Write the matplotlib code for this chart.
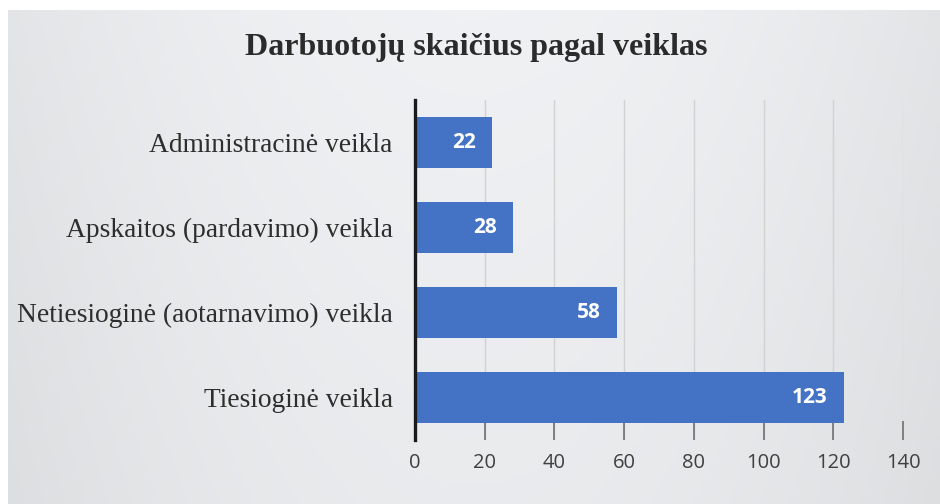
import numpy as np
import matplotlib.pyplot as plt

# data
categories = [
    "Administracinė veikla",
    "Apskaitos (pardavimo) veikla",
    "Netiesioginė (aotarnavimo) veikla",
    "Tiesioginė veikla",
]
values = [22, 28, 58, 123]
xticks = [0, 20, 40, 60, 80, 100, 120, 140]

fig = plt.figure(figsize=(9.4, 5.04), dpi=100, facecolor="white")

# scanned-paper background: soft gray gradient
bg = fig.add_axes([8 / 940, 0, 1 - 8 / 940, 1 - 10 / 504], zorder=-10)
xs = np.linspace(0, 1, 300)
ys = np.linspace(0, 1, 160)
gx, gy = np.meshgrid(xs, ys)
light = 0.955 - 0.05 * ((gx - 0.5) / 0.5) ** 2 - 0.025 * gy
bg.imshow(np.dstack([light * 0.985, light * 0.99, light * 1.0]).clip(0, 1),
          aspect="auto", extent=[0, 1, 0, 1], origin="upper")
bg.axis("off")

ax = fig.add_axes([415 / 940, 1 - 440 / 504, (903 - 415) / 940, 340 / 504])
ax.patch.set_alpha(0)

y = np.arange(len(categories))
bars = ax.barh(y, values, height=0.59, color="#4472c4", zorder=3)

for b, v in zip(bars, values):
    ax.text(b.get_width() - 4.6, b.get_y() + b.get_height() / 2, str(v),
            ha="right", va="center", color="white", fontsize=15,
            fontweight="bold", family="Open Sans", zorder=4)

ax.set_ylim(3.5, -0.5)
ax.set_xlim(0, 140)
ax.set_yticks(y)
ax.set_yticklabels(categories, family="Liberation Serif", fontsize=19.8, color="#2e2e2e")
ax.tick_params(axis="y", length=0, pad=16)

ax.set_xticks(xticks)
ax.set_xticklabels([str(t) for t in xticks], family="Open Sans", fontsize=14.5, color="#404040")
ax.tick_params(axis="x", direction="in", length=14, width=1.2, color="#707070", pad=9)

ax.grid(axis="x", color="#d2d2d2", linewidth=1, zorder=0)
for s in ["top", "right", "bottom"]:
    ax.spines[s].set_visible(False)
ax.spines["left"].set_linewidth(2.4)
ax.spines["left"].set_color("#1a1a1a")
ax.spines["left"].set_zorder(5)

fig.text(476 / 940, 1 - 48 / 504, "Darbuotojų skaičius pagal veiklas",
         ha="center", va="center", family="Liberation Serif", fontsize=23,
         fontweight="bold", color="#2b2b2b")

fig.savefig("out.png", dpi=100)
